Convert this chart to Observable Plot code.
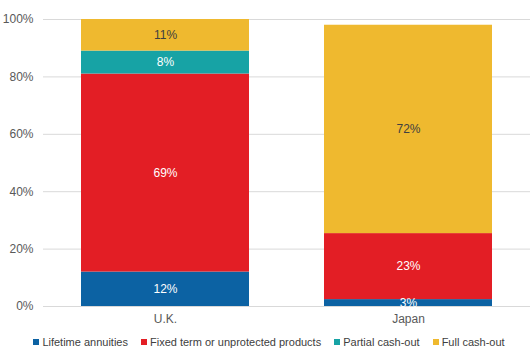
<!DOCTYPE html>
<html><head><meta charset="utf-8">
<script src="https://cdn.jsdelivr.net/npm/d3@7"></script>
<script src="https://cdn.jsdelivr.net/npm/@observablehq/plot@0.6"></script>
<style>
body{margin:0;background:#fff;font-family:"Liberation Sans",Arial,sans-serif;}
#legend{display:flex;justify-content:center;align-items:center;height:24px;font-size:11px;color:#404040;gap:13px;margin-left:6px;}
#legend span.sw{display:inline-block;width:6px;height:6px;margin-right:3px;vertical-align:middle;position:relative;top:-1px;}
</style></head>
<body><div id="chart"></div><div id="legend"></div>
<script>
const countries = ["U.K.", "Japan"];
const series = ["Lifetime annuities", "Fixed term or unprotected products", "Partial cash-out", "Full cash-out"];
const colors = ["#0c62a3", "#e31e25", "#17a3a5", "#efb92f"];
const labelColors = ["#ffffff", "#ffffff", "#ffffff", "#404040"];
const ukValues = [12, 69, 8, 11];
const japanValues = [2.4, 23, 0, 72.6];
const ukLabels = ["12%", "69%", "8%", "11%"];
const japanLabels = ["3%", "23%", "", "72%"];
const yTicks = [0, 20, 40, 60, 80, 100];

const data = [];
series.forEach((s, i) => {
  data.push({country: countries[0], series: s, value: ukValues[i], label: ukLabels[i], i});
  data.push({country: countries[1], series: s, value: japanValues[i], label: japanLabels[i], i});
});
data.sort((a, b) => a.i - b.i);

const plot = Plot.plot({
  width: 532, height: 330,
  marginTop: 19, marginBottom: 24, marginLeft: 43, marginRight: 2,
  style: {fontFamily: '"Liberation Sans", Arial, sans-serif', fontSize: "12px", color: "#595959", background: "#fff"},
  x: {domain: countries, paddingInner: 0.307, paddingOuter: 0.152, label: null, tickSize: 0, tickPadding: 8},
  y: {domain: [0, 100], ticks: yTicks, tickFormat: d => d + "%", label: null, tickSize: 0, tickPadding: 10},
  color: {domain: series, range: colors},
  marks: [
    Plot.ruleY(yTicks, {stroke: "#d9d9d9", strokeWidth: 1}),
    Plot.barY(data, {x: "country", y: "value", fill: "series", z: "series", order: null}),
    Plot.text(data, Plot.stackY({x: "country", y: "value", z: "series", order: null, text: "label",
      fill: d => labelColors[d.i], fontSize: 12}))
  ]
});
document.getElementById("chart").appendChild(plot);

const leg = document.getElementById("legend");
series.forEach((s, i) => {
  const item = document.createElement("div");
  item.innerHTML = `<span class="sw" style="background:${colors[i]}"></span>${s}`;
  leg.appendChild(item);
});
</script></body></html>
